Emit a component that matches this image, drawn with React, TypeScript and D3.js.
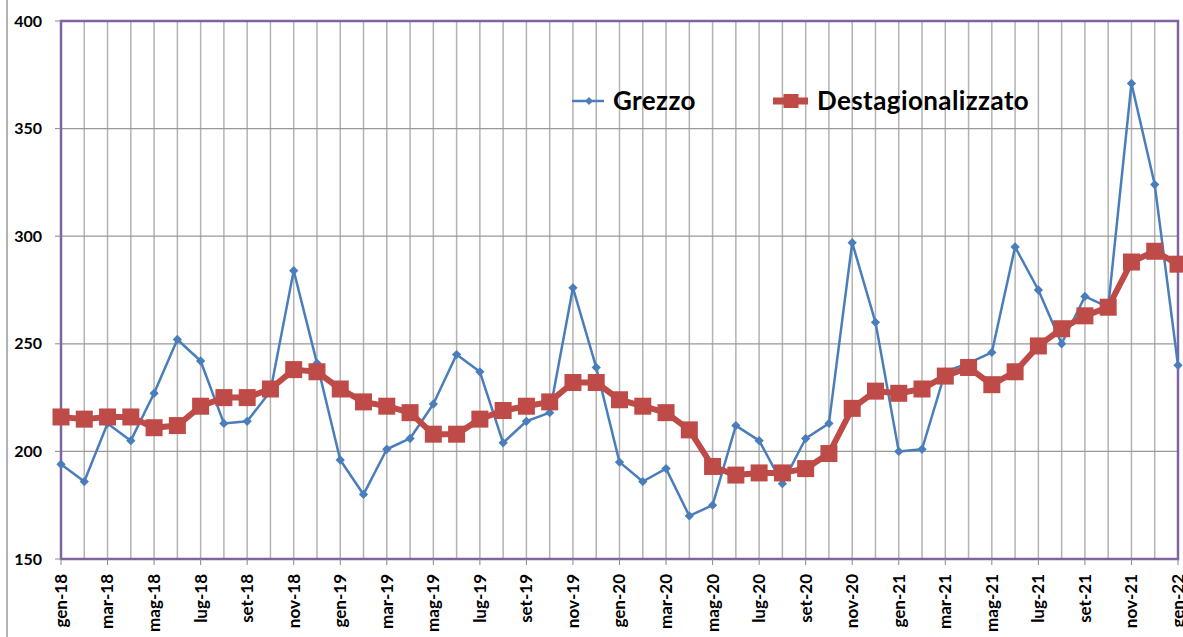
import React from "react";
import * as d3 from "d3";

// mesi (gen-18 .. gen-22)
const periods = [
  "gen-18", "feb-18", "mar-18", "apr-18", "mag-18", "giu-18", "lug-18", "ago-18", "set-18", "ott-18", "nov-18", "dic-18",
  "gen-19", "feb-19", "mar-19", "apr-19", "mag-19", "giu-19", "lug-19", "ago-19", "set-19", "ott-19", "nov-19", "dic-19",
  "gen-20", "feb-20", "mar-20", "apr-20", "mag-20", "giu-20", "lug-20", "ago-20", "set-20", "ott-20", "nov-20", "dic-20",
  "gen-21", "feb-21", "mar-21", "apr-21", "mag-21", "giu-21", "lug-21", "ago-21", "set-21", "ott-21", "nov-21", "dic-21",
  "gen-22",
];

const grezzo = [
  194, 186, 213, 205, 227, 252, 242, 213, 214, 228, 284, 241,
  196, 180, 201, 206, 222, 245, 237, 204, 214, 218, 276, 239,
  195, 186, 192, 170, 175, 212, 205, 185, 206, 213, 297, 260,
  200, 201, 237, 241, 246, 295, 275, 250, 272, 267, 371, 324,
  240,
];

const destag = [
  216, 215, 216, 216, 211, 212, 221, 225, 225, 229, 238, 237,
  229, 223, 221, 218, 208, 208, 215, 219, 221, 223, 232, 232,
  224, 221, 218, 210, 193, 189, 190, 190, 192, 199, 220, 228,
  227, 229, 235, 239, 231, 237, 249, 257, 263, 267, 288, 293,
  287,
];

const yTicks = [150, 200, 250, 300, 350, 400];
const labelEvery = 2;

const W = 1183;
const H = 637;
const margin = { top: 21, right: 5, bottom: 78, left: 61 };
const FONT = "Lato, 'Open Sans', sans-serif";
const BLUE = "#4a7ebb";
const RED = "#be4b48";
const BORDER = "#8064a2";
const GRID = "#b3b3b3";

export default function App() {
  const x = d3
    .scalePoint<number>()
    .domain(d3.range(periods.length))
    .range([margin.left, W - margin.right]);
  const y = d3.scaleLinear().domain([150, 400]).range([H - margin.bottom, margin.top]);

  const line = d3
    .line<number>()
    .x((_, i) => x(i) as number)
    .y((d) => y(d));

  const x0 = margin.left;
  const x1 = W - margin.right;
  const y0 = H - margin.bottom;
  const y1 = margin.top;

  const diamond = d3.symbol().type(d3.symbolDiamond2).size(55)();
  const smallDiamond = d3.symbol().type(d3.symbolDiamond2).size(40)();
  const square = 17;

  return (
    <svg
      width={W}
      height={H}
      style={{ position: "absolute", left: 0, top: 0, background: "#fff" }}
      fontFamily={FONT}
    >
      {/* bordo area grafico */}
      <line x1={7} x2={7} y1={0} y2={H} stroke="#9a9a9a" strokeWidth={1.5} />

      {/* griglia verticale */}
      {periods.map((p, i) => (
        <line key={p} x1={x(i)} x2={x(i)} y1={y1} y2={y0} stroke={GRID} strokeWidth={1.5} />
      ))}
      {/* griglia orizzontale */}
      {yTicks.map((t) => (
        <line key={t} x1={x0} x2={x1} y1={y(t)} y2={y(t)} stroke="#999" strokeWidth={1.2} />
      ))}

      {/* bordo viola */}
      <rect x={x0} y={y1} width={x1 - x0} height={y0 - y1} fill="none" stroke={BORDER} strokeWidth={2.5} />

      {/* asse y */}
      {yTicks.map((t) => (
        <g key={t}>
          <line x1={x0 - 6} x2={x0} y1={y(t)} y2={y(t)} stroke="#888" strokeWidth={1} />
          <text
            x={x0 - 19}
            y={y(t)}
            dy="0.35em"
            textAnchor="end"
            fontSize={16}
            fontWeight="bold"
            fill="#000"
          >
            {t}
          </text>
        </g>
      ))}

      {/* asse x */}
      {periods.map((p, i) =>
        i % labelEvery === 0 ? (
          <g key={p} transform={`translate(${x(i)},${y0})`}>
            <line y1={0} y2={6} stroke="#888" strokeWidth={1} />
            <text
              transform="rotate(-90)"
              x={-15}
              dy="0.35em"
              textAnchor="end"
              fontSize={17}
              fontWeight="bold"
              fill="#000"
            >
              {p}
            </text>
          </g>
        ) : null
      )}

      {/* Grezzo */}
      <path d={line(grezzo) ?? ""} fill="none" stroke={BLUE} strokeWidth={2.5} strokeLinejoin="round" />
      {grezzo.map((d, i) => (
        <path key={i} d={diamond ?? ""} transform={`translate(${x(i)},${y(d)})`} fill={BLUE} />
      ))}

      {/* Destagionalizzato */}
      <path d={line(destag) ?? ""} fill="none" stroke={RED} strokeWidth={6} strokeLinejoin="round" />
      {destag.map((d, i) => (
        <rect
          key={i}
          x={(x(i) as number) - square / 2}
          y={y(d) - square / 2}
          width={square}
          height={square}
          fill={RED}
        />
      ))}

      {/* legenda */}
      <g transform="translate(572,101)">
        <line x1={0} x2={32} stroke={BLUE} strokeWidth={2.5} />
        <path d={smallDiamond ?? ""} transform="translate(17,0)" fill={BLUE} />
        <text x={41} dy="0.36em" fontSize={26} fontWeight="bold" letterSpacing={0.4} fill="#000">
          Grezzo
        </text>
      </g>
      <g transform="translate(773,101)">
        <line x1={0} x2={35} stroke={RED} strokeWidth={7} />
        <rect x={18 - 7.5} y={-7} width={15} height={14} fill={RED} />
        <text x={44} dy="0.36em" fontSize={26} fontWeight="bold" letterSpacing={0.4} fill="#000">
          Destagionalizzato
        </text>
      </g>
    </svg>
  );
}
